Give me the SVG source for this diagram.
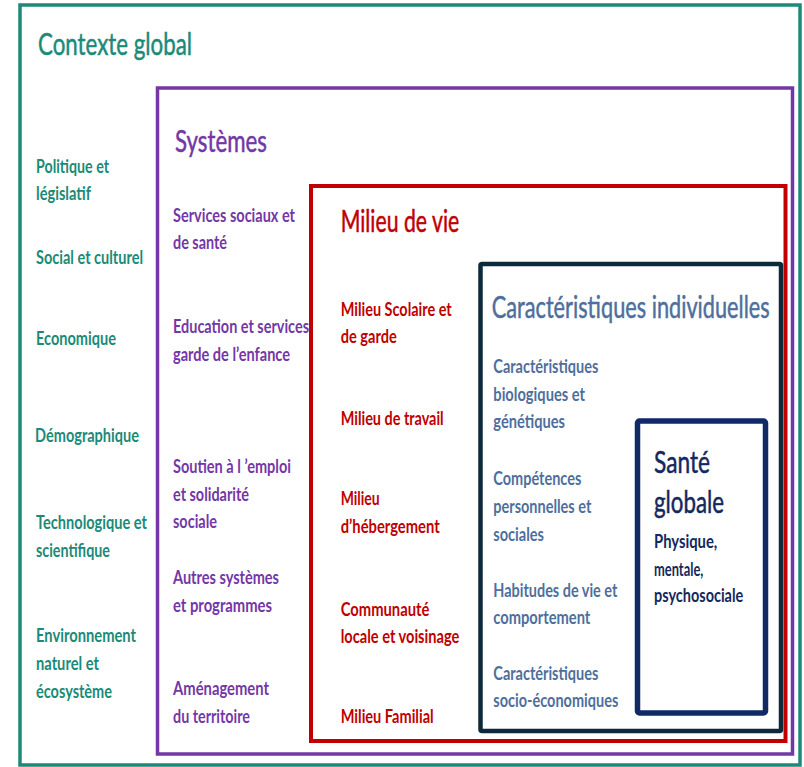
<svg xmlns="http://www.w3.org/2000/svg" width="804" height="767" viewBox="0 0 804 767">
<style>
text{font-family:Lato,"Liberation Sans","DejaVu Sans",sans-serif}
.t{font-size:30px;font-weight:normal;stroke-width:0.5px}
.i{font-size:18px;font-weight:bold}
.teal{fill:#1b8a78;stroke:#1b8a78}.pur{fill:#7437a6;stroke:#7437a6}.red{fill:#c00000;stroke:#c00000}.blu{fill:#4e6f9d;stroke:#4e6f9d}.nav{fill:#13285c}
.i.teal,.i.pur,.i.red,.i.blu,.i .teal{stroke:none}
.box{fill:none}
</style>
<rect width="804" height="767" fill="#ffffff"/>
<g id="contexte">
<rect class="box" x="20" y="5" width="780" height="760" stroke="#1b8a78" stroke-width="3.5"/>
<text class="t teal" x="38" y="55" textLength="154" lengthAdjust="spacingAndGlyphs">Contexte global</text>
<g class="i teal">
<text x="36" y="172.5" textLength="73" lengthAdjust="spacingAndGlyphs">Politique et</text>
<text x="36" y="200" textLength="55" lengthAdjust="spacingAndGlyphs">législatif</text>
<text x="36" y="264" textLength="107" lengthAdjust="spacingAndGlyphs">Social et culturel</text>
<text x="36" y="345" textLength="80" lengthAdjust="spacingAndGlyphs">Economique</text>
<text x="35" y="441.5" textLength="104" lengthAdjust="spacingAndGlyphs">Démographique</text>
<text x="36" y="529" textLength="111" lengthAdjust="spacingAndGlyphs">Technologique et</text>
<text x="36" y="557" textLength="74" lengthAdjust="spacingAndGlyphs">scientifique</text>
<text x="36" y="642" textLength="100" lengthAdjust="spacingAndGlyphs">Environnement</text>
<text x="36" y="670" textLength="63" lengthAdjust="spacingAndGlyphs">naturel et</text>
<text x="36" y="697.5" textLength="76" lengthAdjust="spacingAndGlyphs">écosystème</text>
</g>
</g>
<g id="systemes">
<rect class="box" x="157.5" y="88" width="635" height="666" stroke="#7437a6" stroke-width="3.5"/>
<text class="t pur" x="175" y="151.5" textLength="92" lengthAdjust="spacingAndGlyphs">Systèmes</text>
<g class="i pur">
<text x="173" y="221.5" textLength="122" lengthAdjust="spacingAndGlyphs">Services sociaux et</text>
<text x="173" y="249.3" textLength="54" lengthAdjust="spacingAndGlyphs">de santé</text>
<text x="173" y="333.3" textLength="136" lengthAdjust="spacingAndGlyphs">Education et services</text>
<text x="173" y="360.7" textLength="117" lengthAdjust="spacingAndGlyphs">garde de l’enfance</text>
<text x="173" y="472.7" textLength="118" lengthAdjust="spacingAndGlyphs">Soutien à l ’emploi</text>
<text x="173" y="500.7" textLength="76" lengthAdjust="spacingAndGlyphs">et solidarité</text>
<text x="173" y="528.3" textLength="44" lengthAdjust="spacingAndGlyphs">sociale</text>
<text x="173" y="584" textLength="106" lengthAdjust="spacingAndGlyphs">Autres systèmes</text>
<text x="173" y="611.7" textLength="99" lengthAdjust="spacingAndGlyphs">et programmes</text>
<text x="173" y="695" textLength="96" lengthAdjust="spacingAndGlyphs">Aménagement</text>
<text x="173" y="722.7" textLength="77" lengthAdjust="spacingAndGlyphs">du territoire</text>
</g>
</g>
<g id="milieu">
<rect class="box" x="311" y="186" width="474.5" height="555" stroke="#c00000" stroke-width="4"/>
<text class="t red" x="340.7" y="231.7" textLength="118.6" lengthAdjust="spacingAndGlyphs">Milieu de vie</text>
<g class="i red">
<text x="340.7" y="316" textLength="111" lengthAdjust="spacingAndGlyphs">Milieu Scolaire et</text>
<text x="340.7" y="343.3" textLength="56" lengthAdjust="spacingAndGlyphs">de garde</text>
<text x="340.7" y="425" textLength="103" lengthAdjust="spacingAndGlyphs">Milieu de travail</text>
<text x="340.7" y="505" textLength="39" lengthAdjust="spacingAndGlyphs">Milieu</text>
<text x="340.7" y="532.7" textLength="99" lengthAdjust="spacingAndGlyphs">d’hébergement</text>
<text x="340.7" y="616" textLength="88.6" lengthAdjust="spacingAndGlyphs">Communauté</text>
<text x="340.7" y="643.3" textLength="118.6" lengthAdjust="spacingAndGlyphs">locale et voisinage</text>
<text x="340.7" y="723.3" textLength="93" lengthAdjust="spacingAndGlyphs">Milieu Familial</text>
</g>
</g>
<g id="caracteristiques">
<rect class="box" x="480.5" y="264" width="300.5" height="467" stroke="#0d2a3c" stroke-width="4.5" rx="1.5"/>
<text class="t blu" x="491.7" y="318.3" textLength="278" lengthAdjust="spacingAndGlyphs">Caractéristiques individuelles</text>
<g class="i blu">
<text x="493.3" y="372.7" textLength="105" lengthAdjust="spacingAndGlyphs">Caractéristiques</text>
<text x="493.3" y="400.7" textLength="91.7" lengthAdjust="spacingAndGlyphs">biologiques et</text>
<text x="493.3" y="428.3" textLength="71.7" lengthAdjust="spacingAndGlyphs">génétiques</text>
<text x="493.3" y="485" textLength="88" lengthAdjust="spacingAndGlyphs">Compétences</text>
<text x="493.3" y="513.3" textLength="98" lengthAdjust="spacingAndGlyphs">personnelles et</text>
<text x="493.3" y="540.7" textLength="50.7" lengthAdjust="spacingAndGlyphs">sociales</text>
<text x="493.3" y="596.7" textLength="124" lengthAdjust="spacingAndGlyphs">Habitudes de vie et</text>
<text x="493.3" y="624" textLength="97" lengthAdjust="spacingAndGlyphs">comportement</text>
<text x="493.3" y="680" textLength="105" lengthAdjust="spacingAndGlyphs">Caractéristiques</text>
<text x="493.3" y="707.3" textLength="125" lengthAdjust="spacingAndGlyphs">socio-économiques</text>
</g>
</g>
<g id="sante">
<rect class="box" x="637.5" y="421" width="128" height="292" stroke="#0f2a66" stroke-width="5.5" rx="2"/>
<g class="nav">
<text x="654" y="472.7" font-size="30" stroke="#13285c" stroke-width="0.5" textLength="56" lengthAdjust="spacingAndGlyphs">Santé</text>
<text x="654" y="513.3" font-size="30" stroke="#13285c" stroke-width="0.5" textLength="70" lengthAdjust="spacingAndGlyphs">globale</text>
<text x="654" y="548.3" font-size="18" font-weight="bold" textLength="63.3" lengthAdjust="spacingAndGlyphs">Physique,</text>
<text x="654" y="576" font-size="18" font-weight="bold" textLength="49.3" lengthAdjust="spacingAndGlyphs">mentale,</text>
<text x="654" y="601.7" font-size="18" font-weight="bold" textLength="89.3" lengthAdjust="spacingAndGlyphs">psychosociale</text>
</g>
</g>
<g id="connectors"/>
</svg>
